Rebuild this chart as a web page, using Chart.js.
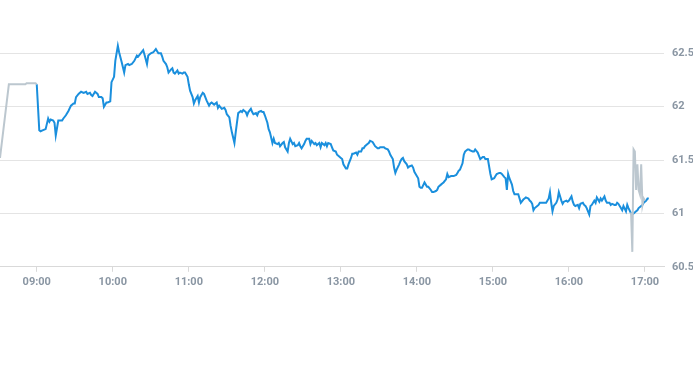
<!DOCTYPE html>
<html><head><meta charset="utf-8">
<script src="https://cdn.jsdelivr.net/npm/chart.js@4/dist/chart.umd.min.js"></script>
<style>html,body{margin:0;padding:0;background:#fff;overflow:hidden}#wrap{position:relative;width:693px;height:365px}</style>
</head><body><div id="wrap"><canvas id="c"></canvas></div>
<script>
const preTimes=['08:31','08:38','08:51','08:52','08:59','09:00'];
const prePrices=[61.52,62.21,62.21,62.22,62.22,62.21];

const sessionTimes=['09:00','09:02','09:03','09:05','09:07','09:09','09:10','09:11','09:13','09:14','09:15','09:17','09:18','09:20','09:21','09:23','09:25','09:27','09:29','09:30','09:31','09:33','09:35','09:37','09:39','09:40','09:42','09:43','09:44','09:46','09:48','09:49','09:51','09:52','09:53','09:55','09:56','09:58','09:59',
'10:01','10:02','10:04','10:05','10:07','10:09','10:10','10:12','10:13','10:15','10:17','10:19','10:20','10:22','10:24','10:25','10:27','10:28','10:30','10:32','10:34','10:35','10:36','10:38','10:39','10:40','10:42','10:43','10:44','10:46','10:47','10:48','10:49','10:51','10:52','10:53','10:55','10:56','10:57','10:59',
'11:00','11:01','11:03','11:04','11:05','11:07','11:08','11:09','11:11','11:12','11:13','11:14','11:16','11:17','11:18','11:20','11:22','11:23','11:24','11:26','11:28','11:29','11:30','11:32','11:33','11:34','11:36','11:37','11:38','11:39','11:41','11:42','11:43','11:45','11:46','11:47','11:49','11:50','11:51','11:53','11:54','11:55','11:57','11:58','11:59',
'12:00','12:02','12:03','12:04','12:06','12:07','12:08','12:10','12:11','12:12','12:14','12:15','12:16','12:18','12:19','12:20','12:22','12:23','12:24','12:26','12:27','12:28','12:29','12:31','12:32','12:33','12:35','12:36','12:37','12:39','12:40','12:41','12:43','12:44','12:45','12:47','12:48','12:49','12:50','12:52','12:53','12:54','12:56','12:57','12:58',
'13:00','13:01','13:02','13:04','13:05','13:06','13:08','13:09','13:10','13:12','13:13','13:14','13:16','13:17','13:18','13:19','13:21','13:22','13:23','13:25','13:26','13:27','13:29','13:30','13:31','13:33','13:34','13:35','13:37','13:38','13:39','13:41','13:42','13:43','13:44','13:46','13:47','13:48','13:49','13:50','13:52','13:53','13:54','13:56','13:57','13:58','13:59',
'14:01','14:02','14:03','14:04','14:06','14:07','14:08','14:09','14:11','14:12','14:13','14:15','14:16','14:17','14:19','14:20','14:21','14:23','14:24','14:25','14:27','14:28','14:29','14:31','14:32','14:33','14:34','14:36','14:37','14:38','14:40','14:41','14:42','14:44','14:45','14:46','14:48','14:49','14:50','14:52','14:53','14:54','14:56','14:57','14:58','14:59',
'15:01','15:02','15:03','15:05','15:06','15:07','15:09','15:10','15:11','15:12','15:13','15:15','15:16','15:17','15:18','15:20','15:21','15:22','15:24','15:25','15:26','15:28','15:29','15:30','15:31','15:32','15:33','15:35','15:36','15:37','15:38','15:40','15:41','15:42','15:44','15:45','15:46','15:47','15:48','15:50','15:51','15:52','15:54','15:55','15:56','15:58','15:59',
'16:00','16:02','16:03','16:04','16:05','16:07','16:08','16:09','16:11','16:12','16:13','16:14','16:16','16:17','16:18','16:20','16:21','16:22','16:24','16:25','16:26','16:28','16:29','16:30','16:32','16:33','16:34','16:36','16:37','16:38','16:39','16:41','16:42','16:43','16:45','16:46','16:47','16:49','16:50','16:51','16:53','16:54','16:55','16:57','16:58','16:59',
'17:01','17:02','17:03'];
const sessionPrices=[62.21,61.78,61.77,61.78,61.79,61.89,61.86,61.88,61.87,61.85,61.73,61.87,61.87,61.87,61.89,61.92,61.96,62.01,62.03,62.03,62.09,62.12,62.14,62.13,62.14,62.12,62.13,62.11,62.10,62.14,62.12,62.09,62.09,62.08,62.00,62.04,62.04,62.05,62.23,
62.28,62.43,62.57,62.51,62.42,62.32,62.39,62.40,62.39,62.40,62.43,62.48,62.47,62.50,62.53,62.49,62.40,62.48,62.50,62.51,62.54,62.52,62.50,62.50,62.47,62.43,62.40,62.37,62.32,62.35,62.36,62.32,62.31,62.34,62.31,62.32,62.31,62.32,62.32,62.28,
62.21,62.15,62.09,62.03,62.06,62.10,62.04,62.09,62.13,62.12,62.09,62.06,62.01,62.03,62.04,62.02,62.04,61.99,62.01,61.98,61.99,61.97,61.93,61.90,61.82,61.76,61.66,61.76,61.85,61.94,61.96,61.95,61.97,61.95,61.92,61.95,61.98,61.95,61.93,61.94,61.92,61.95,61.96,61.95,61.95,
61.92,61.85,61.79,61.76,61.66,61.70,61.66,61.65,61.66,61.63,61.66,61.67,61.62,61.58,61.66,61.70,61.65,61.66,61.63,61.64,61.66,61.63,61.61,61.65,61.68,61.70,61.70,61.65,61.68,61.65,61.66,61.64,61.66,61.62,61.66,61.64,61.66,61.63,61.66,61.65,61.62,61.59,61.58,61.55,61.54,
61.52,61.51,61.46,61.42,61.42,61.46,61.52,61.56,61.56,61.57,61.55,61.58,61.58,61.61,61.61,61.63,61.65,61.66,61.68,61.67,61.65,61.63,61.61,61.61,61.62,61.62,61.62,61.61,61.60,61.58,61.55,61.51,61.43,61.38,61.41,61.46,61.49,61.51,61.52,61.49,61.46,61.43,61.44,61.45,61.43,61.39,61.37,
61.33,61.25,61.24,61.24,61.29,61.27,61.25,61.25,61.22,61.20,61.20,61.21,61.22,61.25,61.27,61.28,61.29,61.32,61.37,61.34,61.35,61.35,61.35,61.36,61.38,61.40,61.41,61.47,61.55,61.58,61.60,61.60,61.59,61.58,61.58,61.60,61.57,61.54,61.51,61.53,61.53,61.51,61.51,61.44,61.37,61.32,
61.33,61.35,61.37,61.38,61.38,61.37,61.34,61.33,61.22,61.37,61.33,61.27,61.21,61.18,61.18,61.18,61.14,61.10,61.13,61.14,61.15,61.14,61.12,61.11,61.09,61.03,61.05,61.07,61.08,61.10,61.10,61.10,61.10,61.10,61.14,61.20,61.10,61.02,61.07,61.10,61.13,61.20,61.12,61.09,61.11,61.12,61.11,
61.12,61.16,61.11,61.08,61.07,61.08,61.05,61.09,61.10,61.08,61.07,61.05,60.99,61.07,61.08,61.12,61.10,61.15,61.11,61.14,61.12,61.16,61.12,61.10,61.10,61.08,61.09,61.08,61.08,61.10,61.09,61.05,61.03,61.07,61.02,61.08,61.05,61.00,60.99,61.00,61.02,61.03,61.05,61.07,61.08,61.10,
61.12,61.14,61.14];

const postTimes=['16:49','16:50','16:51','16:52','16:53','16:54','16:55','16:56','16:57','16:58','16:59','17:00'];
const postPrices=[61.01,60.64,61.60,61.58,61.22,61.46,61.22,61.18,61.46,61.08,61.14,61.12];

const hourLabels=['09:00','10:00','11:00','12:00','13:00','14:00','15:00','16:00','17:00'];
const priceTicks=[60.5,61,61.5,62,62.5];
const priceLabels=['60.5','61','61.5','62','62.5'];

const toMin=t=>{const p=t.split(':').map(Number);return p[0]*60+p[1];};
const pts=(ts,vs)=>ts.map((t,i)=>({x:toMin(t),y:vs[i]}));

const labelColor='#8a96a3';
const labelFont={family:'Roboto',size:11,weight:'bold'};

new Chart(document.getElementById('c'),{
  type:'line',
  data:{datasets:[
    {data:pts(sessionTimes,sessionPrices),borderColor:'#1a8fdd',borderWidth:2,pointRadius:0,tension:0,order:2},
    {data:pts(preTimes,prePrices),borderColor:'#bcc7cf',borderWidth:2,pointRadius:0,tension:0,order:1},
    {data:pts(postTimes,postPrices),borderColor:'#bcc7cf',borderWidth:2,pointRadius:0,tension:0,order:1}
  ]},
  options:{
    responsive:true,maintainAspectRatio:false,animation:false,devicePixelRatio:1,
    layout:{padding:{left:0,right:0,top:0,bottom:72}},
    plugins:{legend:{display:false},tooltip:{enabled:false}},
    scales:{
      x:{type:'linear',min:511,max:1035,
        afterBuildTicks:s=>{s.ticks=hourLabels.map(l=>({value:toMin(l)}));},
        ticks:{callback:(v,i)=>hourLabels[i],color:labelColor,font:labelFont,padding:4,maxRotation:0,autoSkip:false},
        grid:{drawOnChartArea:false,tickLength:5,color:'#d9d9d9'},
        border:{color:'#d9d9d9'}},
      y:{position:'right',min:60.5,max:63,
        afterBuildTicks:s=>{s.ticks=priceTicks.map(v=>({value:v}));},
        afterFit:s=>{s.width=29;s.paddingTop=0;s.paddingBottom=0;},
        ticks:{callback:(v,i)=>priceLabels[i],padding:8,color:labelColor,font:labelFont},
        grid:{color:'#e4e4e4',drawTicks:false},
        border:{display:false}}
    }
  }
});
</script></body></html>
